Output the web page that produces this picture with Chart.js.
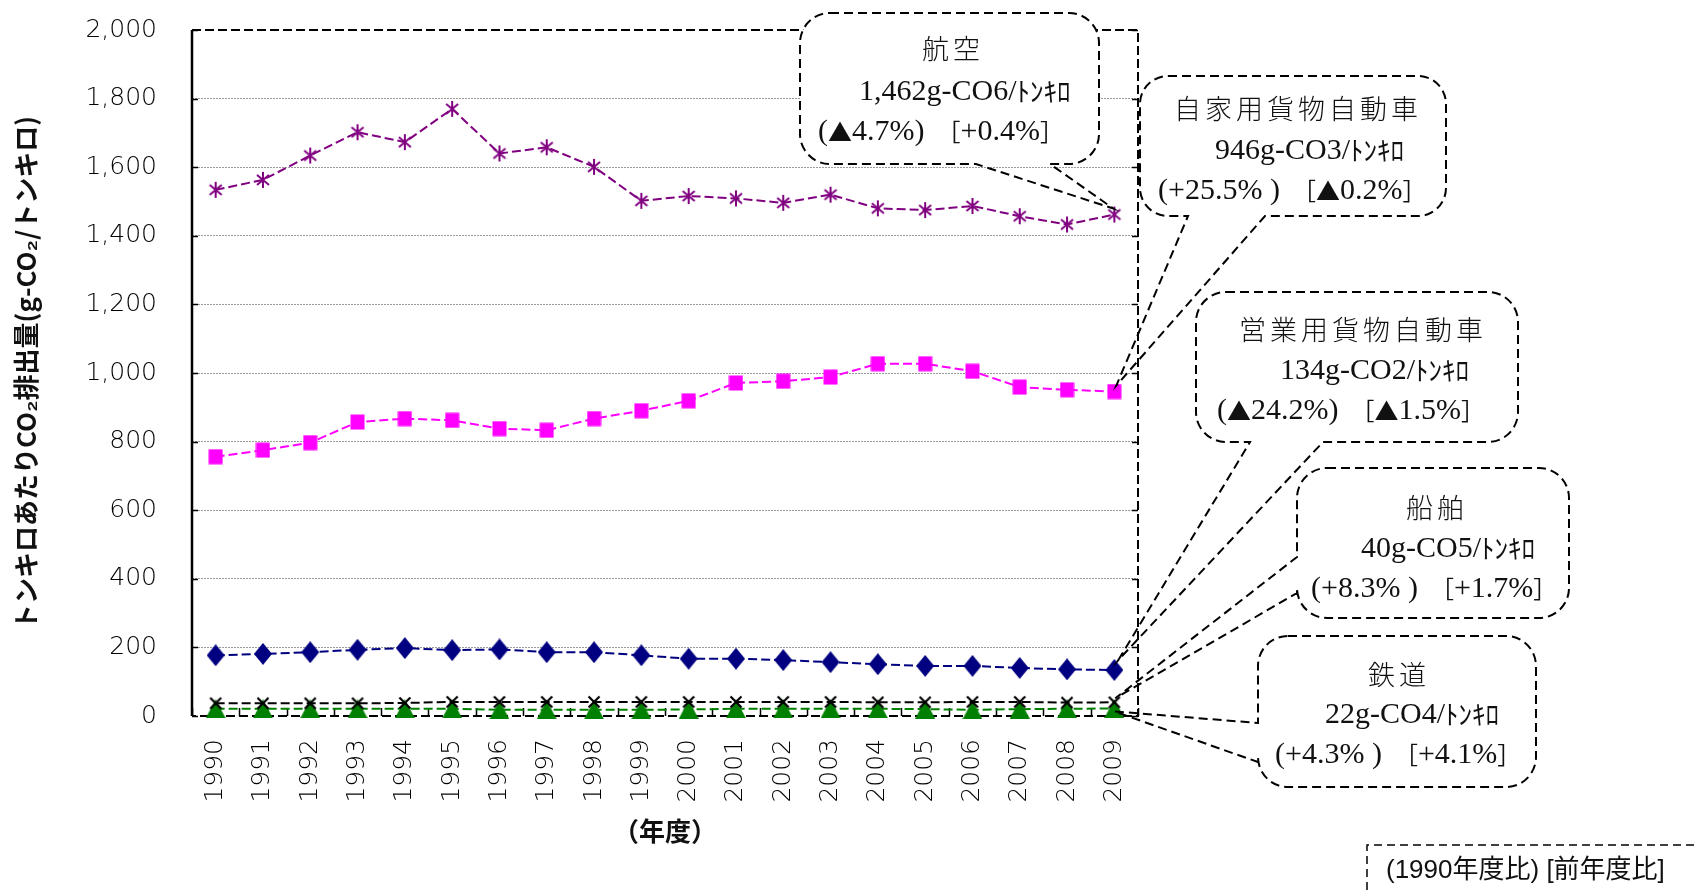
<!DOCTYPE html>
<html>
<head>
<meta charset="utf-8">
<script src="https://cdn.jsdelivr.net/npm/chart.js@4.4.1/dist/chart.umd.min.js"></script>
<style>
  html, body { margin: 0; padding: 0; background: #fff; overflow: hidden; }
  #wrap { width: 1694px; height: 893px; position: relative; }
</style>
</head>
<body>
<div id="wrap"><canvas id="chart" width="1694" height="893"></canvas></div>
<script>
// 輸送機関別 トンキロあたりCO2排出量（g-CO2/トンキロ）
const years = ['1990','1991','1992','1993','1994','1995','1996','1997','1998','1999',
               '2000','2001','2002','2003','2004','2005','2006','2007','2008','2009'];
const aviation         = [1534, 1563, 1634, 1702, 1673, 1770, 1640, 1658, 1601, 1502,
                          1516, 1509, 1496, 1520, 1480, 1475, 1487, 1457, 1433, 1462];
const privateTrucks    = [756, 775, 797, 857, 867, 862, 838, 833, 867, 890,
                          919, 971, 976, 988, 1027, 1027, 1005, 959, 951, 946];
const commercialTrucks = [177, 181, 186, 193, 198, 192, 194, 186, 186, 177,
                          167, 167, 163, 157, 151, 146, 146, 140, 136, 134];
const shipping         = [37, 37, 37, 37, 38, 41, 41, 41, 41, 41,
                          41, 41, 41, 41, 40, 40, 41, 41, 39, 40];
const railway          = [21, 21, 21, 21, 21, 21, 18, 18, 18, 18,
                          19, 21, 21, 21, 21, 20, 18, 20, 21, 22];
const yTicks = [0, 200, 400, 600, 800, 1000, 1200, 1400, 1600, 1800, 2000];

// 吹き出しの文言
const calloutTitles  = ['航空', '自家用貨物自動車', '営業用貨物自動車', '船舶', '鉄道'];
const calloutValues  = ['1,462g-CO6/ﾄﾝｷﾛ', '946g-CO3/ﾄﾝｷﾛ', '134g-CO2/ﾄﾝｷﾛ', '40g-CO5/ﾄﾝｷﾛ', '22g-CO4/ﾄﾝｷﾛ'];
const calloutChanges = ['(▲4.7%)　［+0.4%］', '(+25.5% )　［▲0.2%］', '(▲24.2%)　［▲1.5%］',
                        '(+8.3% )　［+1.7%］', '(+4.3% )　［+4.1%］'];
const noteText = '(1990年度比) [前年度比]';

const SANS = '"DejaVu Sans", "Noto Sans CJK JP", sans-serif';
const CJK = '"Noto Sans CJK JP", sans-serif';
const SERIF = '"Liberation Serif", "Noto Sans CJK JP", serif';

// marker glyphs drawn once onto small canvases
function makeMarker(w, h, paint) {
  const c = document.createElement('canvas');
  c.width = w; c.height = h;
  paint(c.getContext('2d'), w, h);
  return c;
}
const asteriskMarker = makeMarker(16, 18, (g, w, h) => {
  g.strokeStyle = '#800080'; g.lineWidth = 2; g.beginPath();
  g.moveTo(w / 2, 1); g.lineTo(w / 2, h - 1);
  g.moveTo(2, 4); g.lineTo(w - 2, h - 4);
  g.moveTo(2, h - 4); g.lineTo(w - 2, 4);
  g.stroke();
});
const squareMarker = makeMarker(15, 16, (g, w, h) => {
  g.fillStyle = '#ff00ff'; g.fillRect(0.5, 0.5, w - 1, h - 1);
});
const diamondMarker = makeMarker(18, 22, (g, w, h) => {
  g.fillStyle = '#000080'; g.beginPath();
  g.moveTo(w / 2, 0); g.lineTo(w, h / 2); g.lineTo(w / 2, h); g.lineTo(0, h / 2);
  g.closePath(); g.fill();
});
const triangleMarker = makeMarker(20, 19, (g, w, h) => {
  g.fillStyle = '#008000'; g.beginPath();
  g.moveTo(w / 2, 0); g.lineTo(w, h); g.lineTo(0, h);
  g.closePath(); g.fill();
});
const crossMarker = makeMarker(14, 14, (g, w, h) => {
  g.strokeStyle = '#000'; g.lineWidth = 2.2; g.beginPath();
  g.moveTo(1.5, 1.5); g.lineTo(w - 1.5, h - 1.5);
  g.moveTo(w - 1.5, 1.5); g.lineTo(1.5, h - 1.5);
  g.stroke();
});

function series(data, color, marker) {
  return {
    data, borderColor: color, backgroundColor: color, borderWidth: 2, borderDash: [9, 4],
    pointStyle: marker, pointRadius: 8, pointHoverRadius: 8, fill: false, tension: 0, clip: false
  };
}
// 先頭のデータセットが最前面に描かれる
const datasets = [
  series(aviation, '#800080', asteriskMarker),
  series(privateTrucks, '#ff00ff', squareMarker),
  series(commercialTrucks, '#000080', diamondMarker),
  series(shipping, '#000000', crossMarker),
  series(railway, '#008000', triangleMarker)
];

// 吹き出しの配置（データセット番号・枠・しっぽ・文字位置）
const calloutLayout = [
  { ds: 0, x: 800,  y: 13,  w: 299, h: 151, r: 30, tail: 'bottom', t1: 976,  t2: 1050, tip: [-1, -6],
    tx: 951,  ty: 49,  vx: 859,  vy: 92,  cx: 818,  cy: 132 },
  { ds: 1, x: 1140, y: 76,  w: 306, h: 140, r: 28, tail: 'bottom', t1: 1188, t2: 1265, tip: [2, -6],
    tx: 1296, ty: 109, vx: 1215, vy: 151, cx: 1158, cy: 191 },
  { ds: 2, x: 1196, y: 292, w: 322, h: 150, r: 30, tail: 'bottom', t1: 1250, t2: 1323, tip: [4, -10],
    tx: 1361, ty: 330, vx: 1280, vy: 371, cx: 1217, cy: 411 },
  { ds: 3, x: 1297, y: 468, w: 272, h: 150, r: 30, tail: 'left',   t1: 557,  t2: 593,  tip: [1, -4],
    tx: 1435, ty: 508, vx: 1361, vy: 549, cx: 1311, cy: 589 },
  { ds: 4, x: 1258, y: 636, w: 278, h: 151, r: 30, tail: 'left',   t1: 723,  t2: 762,  tip: [0, 3],
    tx: 1397, ty: 675, vx: 1325, vy: 715, cx: 1275, cy: 755 }
];

function roundRectPath(ctx, b) {
  const { x, y, w, h, r } = b; const R = x + w, B = y + h;
  ctx.beginPath();
  ctx.moveTo(x + r, y);
  ctx.lineTo(R - r, y); ctx.arcTo(R, y, R, y + r, r);
  ctx.lineTo(R, B - r); ctx.arcTo(R, B, R - r, B, r);
  ctx.lineTo(x + r, B); ctx.arcTo(x, B, x, B - r, r);
  ctx.lineTo(x, y + r); ctx.arcTo(x, y, x + r, y, r);
  ctx.closePath();
}
function calloutPath(ctx, b, tx, ty) {
  const { x, y, w, h, r } = b; const R = x + w, B = y + h;
  ctx.beginPath();
  ctx.moveTo(x + r, y);
  ctx.lineTo(R - r, y); ctx.arcTo(R, y, R, y + r, r);
  ctx.lineTo(R, B - r); ctx.arcTo(R, B, R - r, B, r);
  if (b.tail === 'bottom') { ctx.lineTo(b.t2, B); ctx.lineTo(tx, ty); ctx.lineTo(b.t1, B); }
  ctx.lineTo(x + r, B); ctx.arcTo(x, B, x, B - r, r);
  if (b.tail === 'left') { ctx.lineTo(x, b.t2); ctx.lineTo(tx, ty); ctx.lineTo(x, b.t1); }
  ctx.lineTo(x, y + r); ctx.arcTo(x, y, x + r, y, r);
  ctx.closePath();
}

// 数字は明朝系、▲・括弧・全角空白・半角カナは和文フォントで描き分ける
function fontFor(ch) {
  const code = ch.codePointAt(0);
  if (ch === '▲' || ch === '［' || ch === '］' || ch === '　') return '24px ' + CJK;
  if (code >= 0xFF61 && code <= 0xFF9F) return '27px ' + CJK;
  return '30px ' + SERIF;
}
function drawMixed(ctx, text, x, y) {
  let px = x, run = '', runFont = null;
  const flush = () => {
    if (!run) return;
    ctx.font = runFont;
    ctx.fillText(run, px, y);
    px += ctx.measureText(run).width;
    run = '';
  };
  for (const ch of text) {
    const f = fontFor(ch);
    if (f !== runFont) { flush(); runFont = f; }
    run += ch;
  }
  flush();
}

const plotFrame = {
  id: 'plotFrame',
  beforeDatasetsDraw(chart) {
    const { ctx, chartArea: a, scales: { x, y } } = chart;
    ctx.save();
    ctx.strokeStyle = '#000';
    ctx.lineWidth = 2;
    ctx.setLineDash([9, 4]);
    ctx.beginPath();
    ctx.moveTo(a.left, a.top); ctx.lineTo(a.right, a.top);
    ctx.lineTo(a.right, a.bottom); ctx.lineTo(a.left, a.bottom);
    ctx.stroke();
    ctx.setLineDash([]);
    ctx.lineWidth = 2.5;
    ctx.beginPath(); ctx.moveTo(a.left, a.top); ctx.lineTo(a.left, a.bottom); ctx.stroke();
    // inner tick marks
    ctx.lineWidth = 1.5;
    ctx.beginPath();
    yTicks.forEach(v => {
      const py = Math.round(y.getPixelForValue(v)) + 0.5;
      ctx.moveTo(a.left, py); ctx.lineTo(a.left + 6, py);
      ctx.moveTo(a.right, py); ctx.lineTo(a.right - 6, py);
    });
    const step = x.getPixelForValue(1) - x.getPixelForValue(0);
    for (let i = 0; i <= years.length; i++) {
      const px = Math.round(x.getPixelForValue(0) - step / 2 + i * step) + 0.5;
      ctx.moveTo(px, a.bottom); ctx.lineTo(px, a.bottom - 8);
    }
    ctx.stroke();
    ctx.restore();
  },
  afterDraw(chart) {
    const { ctx } = chart;
    ctx.save();
    calloutLayout.forEach((b, i) => {
      const meta = chart.getDatasetMeta(b.ds);
      const pt = meta.data[meta.data.length - 1];
      const tx = pt.x + b.tip[0], ty = pt.y + b.tip[1];
      ctx.setLineDash([]);
      ctx.fillStyle = '#fff';
      roundRectPath(ctx, b); ctx.fill();
      ctx.strokeStyle = '#000'; ctx.lineWidth = 2; ctx.setLineDash([9, 5]);
      calloutPath(ctx, b, tx, ty); ctx.stroke();
      ctx.setLineDash([]);
      ctx.fillStyle = '#111';
      ctx.textBaseline = 'middle';
      // 見出し（字間を空けて中央揃え）
      ctx.font = '300 27px ' + CJK;
      ctx.textAlign = 'center';
      const chars = Array.from(calloutTitles[i]);
      const pitch = 31;
      chars.forEach((ch, k) => {
        ctx.fillText(ch, b.tx - (chars.length * pitch) / 2 + pitch / 2 + k * pitch, b.ty);
      });
      ctx.textAlign = 'left';
      drawMixed(ctx, calloutValues[i], b.vx, b.vy);
      drawMixed(ctx, calloutChanges[i], b.cx, b.cy);
    });
    // 凡例注記
    ctx.strokeStyle = '#000'; ctx.lineWidth = 1.5; ctx.setLineDash([8, 5]);
    ctx.beginPath();
    ctx.moveTo(1694, 845); ctx.lineTo(1367, 845); ctx.lineTo(1367, 893);
    ctx.stroke();
    ctx.setLineDash([]);
    ctx.fillStyle = '#111';
    ctx.font = '26px "Liberation Sans", "Noto Sans CJK JP", sans-serif';
    ctx.textAlign = 'left'; ctx.textBaseline = 'middle';
    ctx.fillText(noteText, 1386, 871);
    ctx.restore();
  }
};

new Chart(document.getElementById('chart'), {
  type: 'line',
  data: { labels: years, datasets },
  options: {
    responsive: false,
    devicePixelRatio: 1,
    animation: false,
    events: [],
    layout: { padding: { top: 30, right: 556, bottom: 0, left: 0 } },
    plugins: { legend: { display: false }, tooltip: { enabled: false } },
    scales: {
      x: {
        type: 'category',
        offset: true,
        grid: { display: false, drawTicks: false },
        border: { display: false },
        ticks: {
          autoSkip: false, minRotation: 90, maxRotation: 90, padding: 23,
          color: '#000', font: { family: SANS, size: 25, weight: '200' }
        },
        title: {
          display: true, text: '（年度）', color: '#111',
          font: { family: CJK, size: 26, weight: 'bold' }, padding: { top: 0, bottom: 46 }
        },
        afterFit(s) { s.height = 177; s.paddingLeft = 0; s.paddingRight = 0; }
      },
      y: {
        min: 0, max: 2000,
        afterBuildTicks(s) { s.ticks = yTicks.map(v => ({ value: v })); },
        grid: {
          drawTicks: false, lineWidth: 1,
          color: c => (c.tick && (c.tick.value === 0 || c.tick.value === 2000)) ? 'rgba(0,0,0,0)' : '#9a9a9a'
        },
        border: { display: false, dash: [2, 1] },
        ticks: {
          padding: 35, color: '#000', font: { family: SANS, size: 25, weight: '200' },
          callback: v => Number(v).toLocaleString('en-US')
        },
        title: {
          display: true, text: 'トンキロあたりCO₂排出量(g-CO₂/トンキロ)', color: '#111',
          font: { family: CJK, size: 26, weight: 'bold' }, padding: { top: 11, bottom: 0 }
        },
        afterFit(s) { s.width = 192; s.paddingTop = 0; s.paddingBottom = 0; }
      }
    }
  },
  plugins: [plotFrame]
});
</script>
</body>
</html>
